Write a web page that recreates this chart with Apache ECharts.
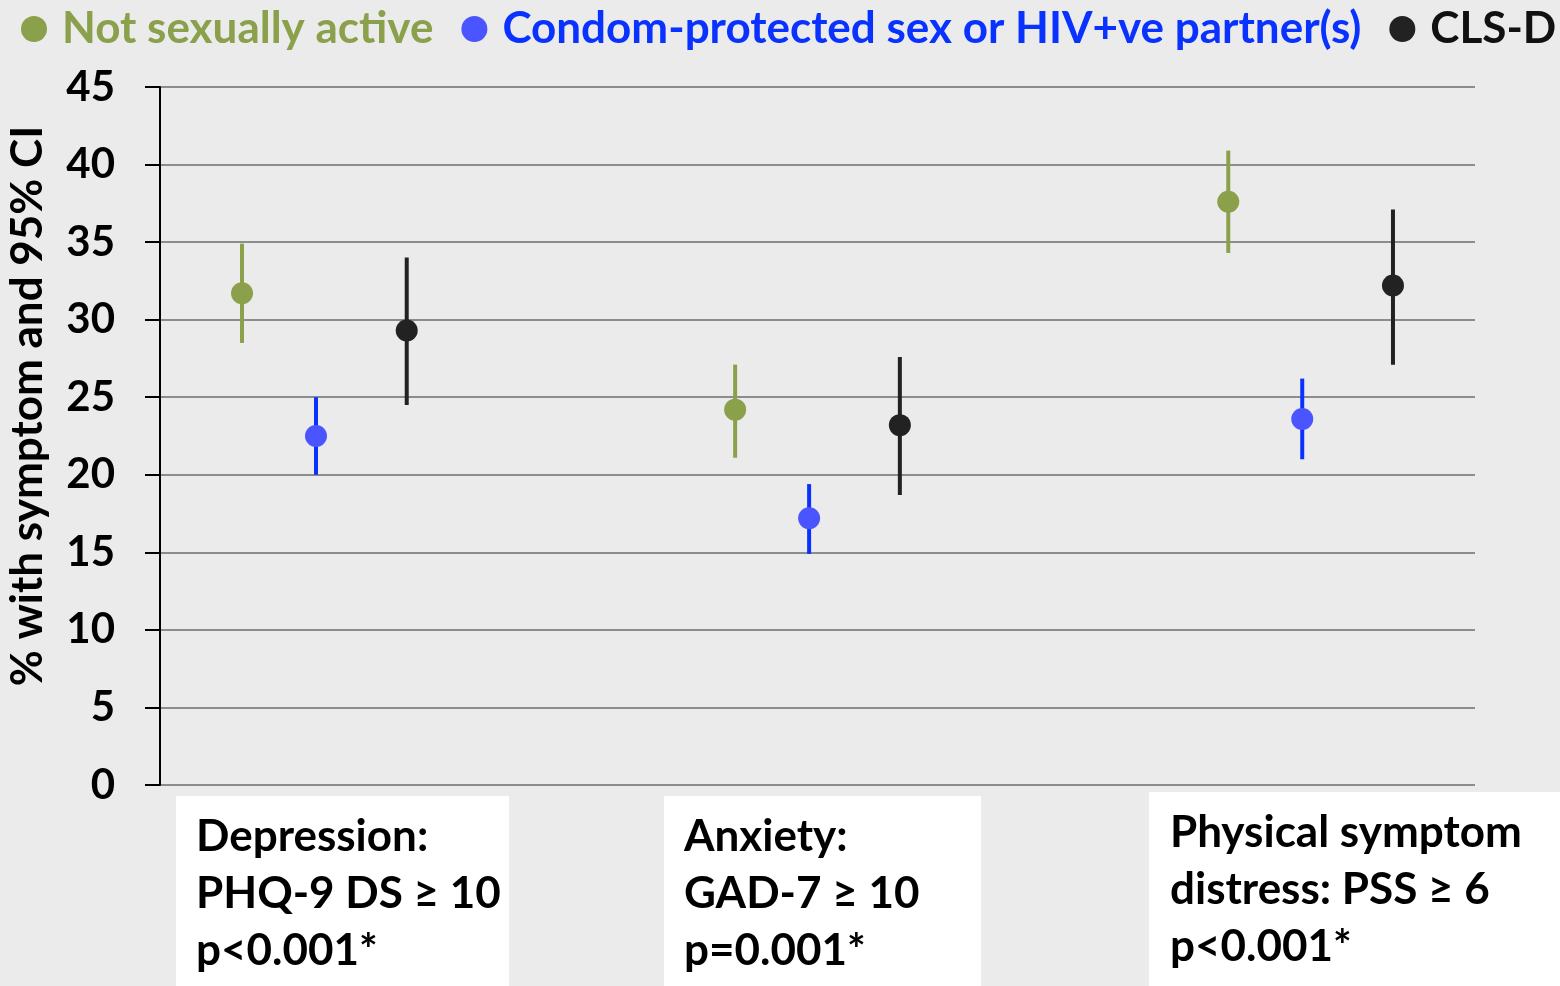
<!DOCTYPE html>
<html><head><meta charset="utf-8">
<script src="https://cdn.jsdelivr.net/npm/echarts@6/dist/echarts.min.js"></script>
<style>html,body{margin:0;padding:0;background:#ebebeb;}#c{width:1560px;height:986px;}</style>
</head><body><div id="c"></div>
<script>
const categories = ['Depression:\nPHQ-9 DS ≥ 10\np<0.001*', 'Anxiety:\nGAD-7 ≥ 10\np=0.001*', 'Physical symptom\ndistress: PSS ≥ 6\np<0.001*'];
const seriesNames = ['Not sexually active', 'Condom-protected sex or HIV+ve partner(s)', 'CLS-D'];
// point estimates
const notActive = [31.7, 24.2, 37.6];
const condom = [22.5, 17.2, 23.6];
const clsd = [29.3, 23.2, 32.2];
// CI lows / highs
const notActiveLow = [28.5, 21.1, 34.3];
const notActiveHigh = [34.9, 27.1, 40.9];
const condomLow = [20.0, 14.9, 21.0];
const condomHigh = [25.0, 19.4, 26.2];
const clsdLow = [24.5, 18.7, 27.1];
const clsdHigh = [34.0, 27.6, 37.1];
const yTicks = [0, 5, 10, 15, 20, 25, 30, 35, 40, 45];

const offsets = [-0.167, -0.017, 0.167];
const markerColors = ['#8aa04b', '#4a55ff', '#222222'];
const lineColors = ['#8aa04b', '#0a32ff', '#222222'];
const textColors = ['#8aa04b', '#0a32ff', '#111111'];
const FONT = 'Lato';

const vals = [notActive, condom, clsd];
const lows = [notActiveLow, condomLow, clsdLow];
const highs = [notActiveHigh, condomHigh, clsdHigh];

const series = seriesNames.map((name, si) => ({
  name, type: 'custom',
  itemStyle: {color: markerColors[si]},
  data: categories.map((c, ci) => [ci + offsets[si], vals[si][ci], lows[si][ci], highs[si][ci]]),
  encode: {x: 0, y: [1, 2, 3]},
  renderItem: (params, api) => {
    const x = api.value(0);
    const p = api.coord([x, api.value(1)]);
    const lo = api.coord([x, api.value(2)]);
    const hi = api.coord([x, api.value(3)]);
    return {type: 'group', children: [
      {type: 'line', shape: {x1: lo[0], y1: lo[1], x2: hi[0], y2: hi[1]}, style: {stroke: lineColors[si], lineWidth: 4}},
      {type: 'circle', shape: {cx: p[0], cy: p[1], r: 11}, style: {fill: markerColors[si]}}
    ]};
  }
}));

const boxes = [
  {x: 176, y: 796, w: 333, h: 190, tx: 196, ty: 808},
  {x: 664, y: 796, w: 317, h: 190, tx: 684, ty: 808},
  {x: 1149, y: 792, w: 411, h: 194, tx: 1170, ty: 804}
];
const graphic = categories.map((c, i) => ({
  type: 'group', children: [
    {type: 'rect', shape: {x: boxes[i].x, y: boxes[i].y, width: boxes[i].w, height: boxes[i].h}, style: {fill: '#ffffff'}},
    {type: 'text', x: boxes[i].tx, y: boxes[i].ty, style: {text: c, font: 'bold 44px ' + FONT, fill: '#000', lineHeight: 57}}
  ]
}));

const chart = echarts.init(document.getElementById('c'));
chart.setOption({
  backgroundColor: '#ebebeb',
  animation: false,
  legend: {
    left: 16, top: 2, width: 3000, icon: 'circle', itemWidth: 26, itemHeight: 26, itemGap: 28,
    data: seriesNames.map((n, i) => ({name: n, textStyle: {color: textColors[i]}})),
    textStyle: {fontFamily: FONT, fontWeight: 'bold', fontSize: 44, padding: [0, 0, 0, 10]}
  },
  grid: {left: 160, right: 85, top: 87, bottom: 201, containLabel: false, outerBoundsMode: 'none'},
  xAxis: {type: 'value', min: -1/3, max: 7/3, show: false},
  yAxis: {
    type: 'value', min: 0, max: 45, interval: 5,
    name: '% with symptom and 95% CI', nameLocation: 'middle', nameGap: 110, nameRotate: 90,
    nameTextStyle: {fontFamily: FONT, fontWeight: 'bold', fontSize: 44, color: '#000', padding: [0, 0, 0, 60]},
    axisLine: {show: true, onZero: false, lineStyle: {color: '#000', width: 2}},
    axisTick: {show: true, length: 15, lineStyle: {color: '#000', width: 2}},
    axisLabel: {margin: 45, fontFamily: FONT, fontWeight: 'bold', fontSize: 42, color: '#000',
      formatter: v => yTicks.includes(v) ? String(v) : ''},
    splitLine: {lineStyle: {color: '#8c8c8c', width: 2}}
  },
  series,
  graphic
});
</script></body></html>
